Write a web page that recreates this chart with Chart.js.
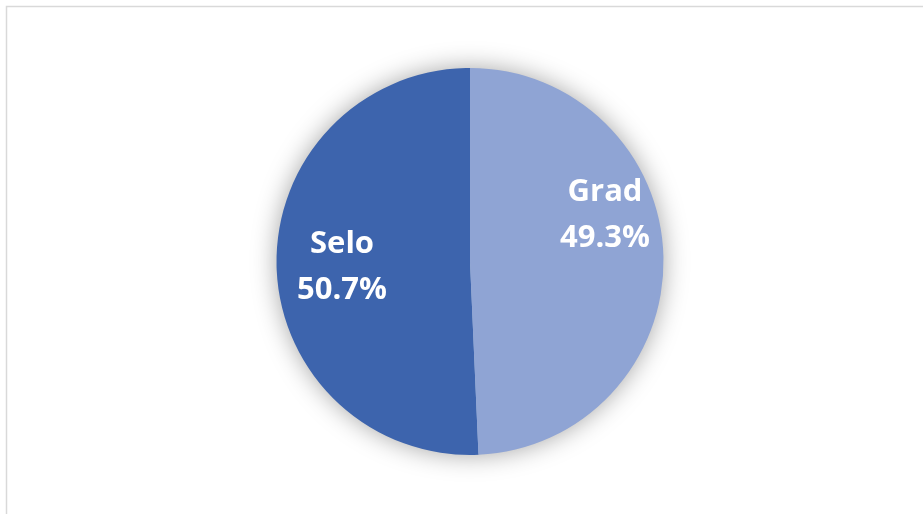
<!DOCTYPE html>
<html>
<head>
<meta charset="utf-8">
<script src="https://cdn.jsdelivr.net/npm/chart.js@4/dist/chart.umd.min.js"></script>
<style>
  html, body { margin: 0; padding: 0; background: #ffffff; }
  #wrap { position: relative; width: 923px; height: 514px; }
</style>
</head>
<body>
<div id="wrap"><canvas id="pie" width="923" height="514"></canvas></div>
<script>
// Settlement type shares (percent)
const categories = ['Grad', 'Selo'];
const shares = [49.3, 50.7];
const sliceColors = ['#8fa4d4', '#3d64ad'];

// Label placement per slice: fraction of radius and angular shift (degrees) from the slice bisector
const labelRadius = [0.738, 0.662];
const labelShift = [-17.7, -1.2];

const framePlugin = {
  id: 'frame',
  beforeDraw(chart) {
    const ctx = chart.ctx;
    ctx.save();
    ctx.fillStyle = '#ffffff';
    ctx.fillRect(0, 0, chart.width, chart.height);
    ctx.strokeStyle = '#d9d9d9';
    ctx.lineWidth = 1.5;
    ctx.strokeRect(6.5, 6.5, chart.width + 20, chart.height + 20);
    ctx.restore();
  }
};

const shadowPlugin = {
  id: 'pieShadow',
  beforeDatasetsDraw(chart) {
    const arc = chart.getDatasetMeta(0).data[0];
    if (!arc) return;
    const ctx = chart.ctx;
    ctx.save();
    ctx.shadowColor = 'rgba(0,0,0,0.38)';
    ctx.shadowBlur = 26;
    ctx.fillStyle = '#ffffff';
    ctx.beginPath();
    ctx.arc(arc.x, arc.y, arc.outerRadius - 1, 0, Math.PI * 2);
    ctx.fill();
    ctx.restore();
  }
};

const labelPlugin = {
  id: 'sliceLabels',
  afterDatasetsDraw(chart) {
    const meta = chart.getDatasetMeta(0);
    const ctx = chart.ctx;
    ctx.save();
    ctx.fillStyle = '#ffffff';
    ctx.font = 'bold 31px "Open Sans", sans-serif';
    ctx.textAlign = 'center';
    ctx.textBaseline = 'middle';
    meta.data.forEach((arc, i) => {
      const mid = (arc.startAngle + arc.endAngle) / 2 + labelShift[i] * Math.PI / 180;
      const r = arc.outerRadius * labelRadius[i];
      const x = arc.x + Math.cos(mid) * r;
      const y = arc.y + Math.sin(mid) * r;
      ctx.fillText(categories[i], x, y - 23);
      ctx.fillText(shares[i].toFixed(1) + '%', x, y + 23);
    });
    ctx.restore();
  }
};

new Chart(document.getElementById('pie'), {
  type: 'pie',
  data: {
    labels: categories,
    datasets: [{
      data: shares,
      backgroundColor: sliceColors,
      borderWidth: 0
    }]
  },
  options: {
    responsive: false,
    animation: false,
    layout: { padding: { left: 17, right: 0, top: 68, bottom: 59 } },
    plugins: {
      legend: { display: false },
      tooltip: { enabled: false }
    }
  },
  plugins: [framePlugin, shadowPlugin, labelPlugin]
});
</script>
</body>
</html>
